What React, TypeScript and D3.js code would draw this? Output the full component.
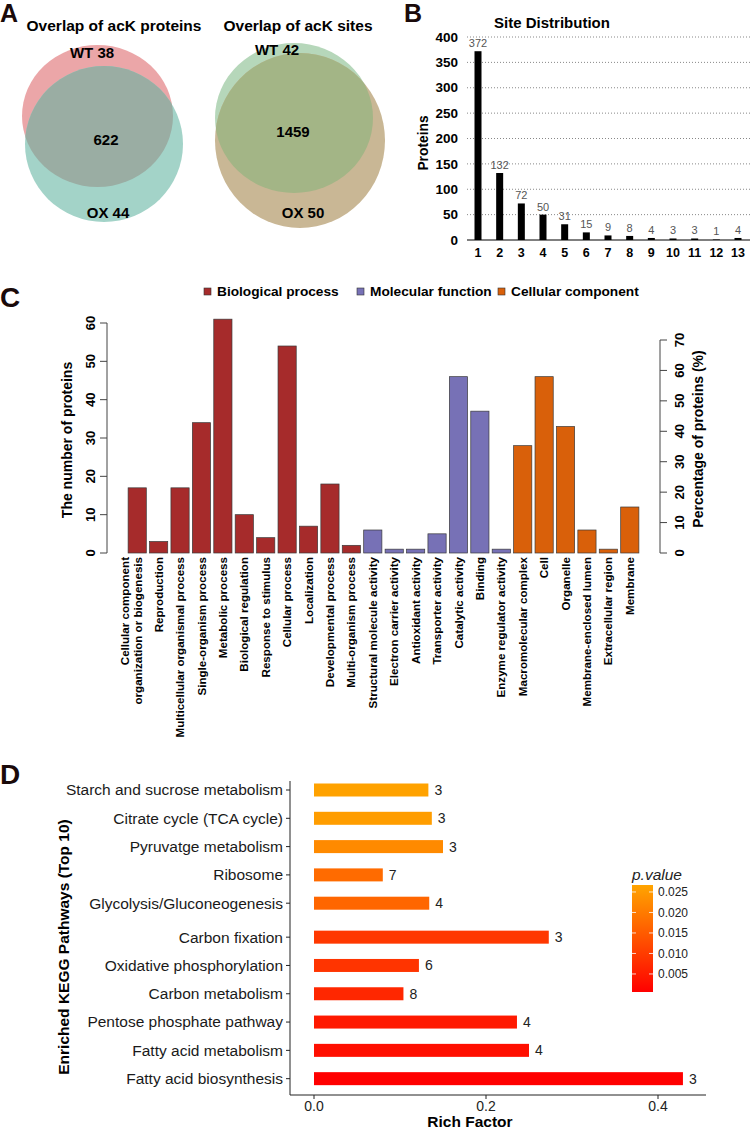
import React from "react";
import * as d3 from "d3";

const FONT = "'Liberation Sans', Arial, Helvetica, sans-serif";

// ---------- Panel A data ----------
const vennProteinTitle = "Overlap of acK proteins";
const vennProteinLabels = ["WT 38", "622", "OX 44"];
const vennSiteTitle = "Overlap of acK sites";
const vennSiteLabels = ["WT 42", "1459", "OX 50"];

// ---------- Panel B data ----------
const siteCategories = ["1", "2", "3", "4", "5", "6", "7", "8", "9", "10", "11", "12", "13"];
const siteProteins = [372, 132, 72, 50, 31, 15, 9, 8, 4, 3, 3, 1, 4];
const siteTicks = [0, 50, 100, 150, 200, 250, 300, 350, 400];

// ---------- Panel C data ----------
const goTerms = [
  "Cellular component|organization or biogenesis",
  "Reproduction",
  "Multicellular organismal process",
  "Single-organism process",
  "Metabolic process",
  "Biological regulation",
  "Response to stimulus",
  "Cellular process",
  "Localization",
  "Developmental process",
  "Multi-organism process",
  "Structural molecule activity",
  "Electron carrier activity",
  "Antioxidant activity",
  "Transporter activity",
  "Catalytic activity",
  "Binding",
  "Enzyme regulator activity",
  "Macromolecular complex",
  "Cell",
  "Organelle",
  "Membrane-enclosed lumen",
  "Extracellular region",
  "Membrane",
];
const goCounts = [17, 3, 17, 34, 61, 10, 4, 54, 7, 18, 2, 6, 1, 1, 5, 46, 37, 1, 28, 46, 33, 6, 1, 12];
const goGroups = [0, 0, 0, 0, 0, 0, 0, 0, 0, 0, 0, 1, 1, 1, 1, 1, 1, 1, 2, 2, 2, 2, 2, 2];
const goLegend = ["Biological process", "Molecular function", "Cellular component"];
const goColors = ["#A62B2B", "#7771B6", "#D9600A"];
const goLeftTicks = [0, 10, 20, 30, 40, 50, 60];
const goRightTicks = [0, 10, 20, 30, 40, 50, 60, 70];

// ---------- Panel D data ----------
const keggPathways = [
  "Starch and sucrose metabolism",
  "Citrate cycle (TCA cycle)",
  "Pyruvatge metabolism",
  "Ribosome",
  "Glycolysis/Gluconeogenesis",
  "Carbon fixation",
  "Oxidative phosphorylation",
  "Carbon metabolism",
  "Pentose phosphate pathway",
  "Fatty acid metabolism",
  "Fatty acid biosynthesis",
];
const keggRich = [0.133, 0.137, 0.15, 0.08, 0.134, 0.273, 0.122, 0.104, 0.236, 0.25, 0.429];
const keggCounts = [3, 3, 3, 7, 4, 3, 6, 8, 4, 4, 3];
const keggPvalue = [0.0262, 0.0255, 0.0225, 0.0175, 0.0168, 0.0095, 0.0088, 0.0068, 0.0045, 0.003, 0.0006];
const keggGroup = [0, 0, 0, 0, 0, 1, 1, 1, 1, 1, 1];
const richTicks = [0, 0.2, 0.4];
const pTicks = [0.005, 0.01, 0.015, 0.02, 0.025];
const pRange = [0.0006, 0.0267];

export default function App() {
  // ---- Panel B scales ----
  const bx = d3.scalePoint<string>().domain(siteCategories).range([478, 738]);
  const by = d3.scaleLinear().domain([0, 400]).range([240, 37]);

  // ---- Panel C scales ----
  const cx = d3
    .scaleBand<string>()
    .domain(goTerms)
    .range([126.5, 640.5])
    .paddingInner(0.15)
    .paddingOuter(0.075);
  const cyL = d3.scaleLinear().domain([0, 60]).range([553, 323]);
  const cyR = d3.scaleLinear().domain([0, 70]).range([553, 340]);

  // ---- Panel D scales ----
  const dx = d3.scaleLinear().domain([0, 0.4]).range([314, 658]);
  const dy = d3.scaleLinear().domain([0, 10]).range([790, 1073]);
  const dYpos = (i: number) => dy(i + 0.2 * keggGroup[i]);
  const pColor = d3
    .scaleLinear<string>()
    .domain(pRange)
    .range(["#FF0000", "#FFA500"])
    .interpolate(d3.interpolateRgb);
  const pY = d3.scaleLinear().domain(pRange).range([992, 885]);

  const gradStops = d3.range(0, 1.0001, 0.1).map((t) => ({
    t,
    c: pColor(pRange[0] + t * (pRange[1] - pRange[0])),
  }));

  return (
    <div>
      <style>{`body{margin:0}`}</style>
      <svg width={750} height={1132} style={{ display: "block", fontFamily: FONT }}>
        <defs>
          <clipPath id="clipWT1">
            <ellipse cx={97.5} cy={116} rx={75.5} ry={71} />
          </clipPath>
          <clipPath id="clipWT2">
            <ellipse cx={294} cy={118} rx={79} ry={75} />
          </clipPath>
          <linearGradient id="pgrad" x1="0" y1="1" x2="0" y2="0">
            {gradStops.map((s) => (
              <stop key={s.t} offset={s.t} stopColor={s.c} />
            ))}
          </linearGradient>
        </defs>
        <rect width={750} height={1132} fill="#fff" />

        {/* ================= Panel A ================= */}
        <text x={0} y={22} fontSize={25} fontWeight="bold" fill="#1a0a0a">A</text>
        <text x={114} y={31} fontSize={15.5} fontWeight="bold" textAnchor="middle">{vennProteinTitle}</text>
        <text x={298} y={31} fontSize={15.5} fontWeight="bold" textAnchor="middle">{vennSiteTitle}</text>

        <ellipse cx={97.5} cy={116} rx={75.5} ry={71} fill="#EBA6A8" />
        <ellipse cx={104} cy={144} rx={79} ry={78} fill="#A3D3C8" />
        <ellipse cx={104} cy={144} rx={79} ry={78} fill="#9AADA3" clipPath="url(#clipWT1)" />
        <text x={92} y={58} fontSize={15} fontWeight="bold" textAnchor="middle">{vennProteinLabels[0]}</text>
        <text x={106} y={145} fontSize={15} fontWeight="bold" textAnchor="middle">{vennProteinLabels[1]}</text>
        <text x={108} y={218} fontSize={15} fontWeight="bold" textAnchor="middle">{vennProteinLabels[2]}</text>

        <ellipse cx={294} cy={118} rx={79} ry={75} fill="#B6D7BA" />
        <ellipse cx={300} cy={140.5} rx={85} ry={87.5} fill="#C9B795" />
        <ellipse cx={300} cy={140.5} rx={85} ry={87.5} fill="#A3B586" clipPath="url(#clipWT2)" />
        <text x={277} y={55} fontSize={15} fontWeight="bold" textAnchor="middle">{vennSiteLabels[0]}</text>
        <text x={293} y={137} fontSize={15} fontWeight="bold" textAnchor="middle">{vennSiteLabels[1]}</text>
        <text x={303} y={218} fontSize={15} fontWeight="bold" textAnchor="middle">{vennSiteLabels[2]}</text>

        {/* ================= Panel B ================= */}
        <text x={404} y={22} fontSize={25} fontWeight="bold" fill="#1a0a0a">B</text>
        <text x={552} y={28} fontSize={15} fontWeight="bold" textAnchor="middle">Site Distribution</text>
        {siteTicks.map((t) => (
          <g key={"bt" + t}>
            {t > 0 && (
              <line x1={467} x2={750} y1={by(t)} y2={by(t)} stroke="#888" strokeWidth={1} strokeDasharray="1,2" />
            )}
            <text x={458} y={by(t)} dy="0.35em" fontSize={13.5} fontWeight="bold" textAnchor="end">{t}</text>
          </g>
        ))}
        <line x1={467} x2={750} y1={by(0)} y2={by(0)} stroke="#000" strokeWidth={1.2} />
        <text transform={`translate(428,143) rotate(-90)`} fontSize={13.8} fontWeight="bold" textAnchor="middle">Proteins</text>
        {siteCategories.map((c, i) => (
          <g key={"bb" + c}>
            <rect x={(bx(c) as number) - 3.5} y={by(siteProteins[i])} width={7} height={by(0) - by(siteProteins[i])} fill="#000" />
            <text x={bx(c)} y={by(siteProteins[i]) - 4} fontSize={11} fill="#555" textAnchor="middle">{siteProteins[i]}</text>
            <text x={bx(c)} y={253} dy="0.35em" fontSize={12.5} fontWeight="bold" textAnchor="middle">{c}</text>
          </g>
        ))}

        {/* ================= Panel C ================= */}
        <text x={0} y={307} fontSize={28} fontWeight="bold" fill="#1a0a0a">C</text>
        {goLegend.map((g, i) => {
          const lx = [204, 357, 498][i];
          return (
            <g key={"lg" + i}>
              <rect x={lx} y={288} width={7} height={7} fill={goColors[i]} stroke="#333" strokeWidth={0.6} />
              <text x={lx + 13} y={291.5} dy="0.35em" fontSize={13.7} fontWeight="bold">{g}</text>
            </g>
          );
        })}
        {/* left axis */}
        <line x1={107} x2={107} y1={cyL(0)} y2={cyL(60)} stroke="#444" />
        {goLeftTicks.map((t) => (
          <g key={"cl" + t}>
            <line x1={100} x2={107} y1={cyL(t)} y2={cyL(t)} stroke="#444" />
            <text transform={`translate(94.5,${cyL(t)}) rotate(-90)`} fontSize={13} fontWeight="bold" textAnchor="middle">{t}</text>
          </g>
        ))}
        <text transform={`translate(72,440) rotate(-90)`} fontSize={14} fontWeight="bold" textAnchor="middle">The number of proteins</text>
        {/* right axis */}
        <line x1={660} x2={660} y1={cyR(0)} y2={cyR(70)} stroke="#444" />
        {goRightTicks.map((t) => (
          <g key={"cr" + t}>
            <line x1={660} x2={667} y1={cyR(t)} y2={cyR(t)} stroke="#444" />
            <text transform={`translate(684,${cyR(t)}) rotate(-90)`} fontSize={13} fontWeight="bold" textAnchor="middle">{t}</text>
          </g>
        ))}
        <text transform={`translate(703,439) rotate(-90)`} fontSize={14} fontWeight="bold" textAnchor="middle">Percentage of proteins (%)</text>
        {goTerms.map((term, i) => {
          const x0 = cx(term) as number;
          const mid = x0 + cx.bandwidth() / 2;
          const lines = term.split("|");
          return (
            <g key={"cb" + i}>
              <rect x={x0} y={cyL(goCounts[i])} width={cx.bandwidth()} height={cyL(0) - cyL(goCounts[i])} fill={goColors[goGroups[i]]} stroke="#3a3a3a" strokeWidth={0.7} />
              {lines.length === 1 ? (
                <text transform={`translate(${mid},557) rotate(-90)`} dy="0.35em" fontSize={11.6} fontWeight="bold" textAnchor="end">{term}</text>
              ) : (
                lines.map((ln, j) => (
                  <text key={j} transform={`translate(${mid - 12 + j * 13},557) rotate(-90)`} dy="0.35em" fontSize={11.6} fontWeight="bold" textAnchor="end">{ln}</text>
                ))
              )}
            </g>
          );
        })}

        {/* ================= Panel D ================= */}
        <text x={0} y={784} fontSize={28} fontWeight="bold" fill="#1a0a0a">D</text>
        <line x1={290} x2={290} y1={781} y2={1095} stroke="#222" strokeWidth={1} />
        <line x1={290} x2={706} y1={1095} y2={1095} stroke="#222" strokeWidth={1} />
        {richTicks.map((t) => (
          <g key={"dt" + t}>
            <line x1={dx(t)} x2={dx(t)} y1={1095} y2={1099} stroke="#222" />
            <text x={dx(t)} y={1106} dy="0.35em" fontSize={14} fill="#222" textAnchor="middle">{t.toFixed(1)}</text>
          </g>
        ))}
        <text x={470} y={1127} fontSize={15.5} fontWeight="bold" textAnchor="middle">Rich Factor</text>
        <text transform={`translate(69,947) rotate(-90)`} fontSize={15.5} fontWeight="bold" textAnchor="middle">Enriched KEGG Pathways (Top 10)</text>
        {keggPathways.map((p, i) => {
          const yc = dYpos(i);
          return (
            <g key={"kp" + i}>
              <line x1={286} x2={290} y1={yc} y2={yc} stroke="#222" />
              <text x={283} y={yc} dy="0.35em" fontSize={15.5} fill="#1a1a1a" textAnchor="end">{p}</text>
              <rect x={dx(0)} y={yc - 6.5} width={dx(keggRich[i]) - dx(0)} height={13} fill={pColor(keggPvalue[i])} />
              <text x={dx(keggRich[i]) + 6} y={yc} dy="0.35em" fontSize={14} fill="#222">{keggCounts[i]}</text>
            </g>
          );
        })}
        {/* colorbar legend */}
        <text x={632} y={880} fontSize={15.5} fontStyle="italic" fill="#222">p.value</text>
        <rect x={632} y={pY(pRange[1])} width={21} height={pY(pRange[0]) - pY(pRange[1])} fill="url(#pgrad)" />
        {pTicks.map((t) => (
          <g key={"pt" + t}>
            <line x1={632} x2={636} y1={pY(t)} y2={pY(t)} stroke="#fff" strokeWidth={0.8} />
            <line x1={649} x2={653} y1={pY(t)} y2={pY(t)} stroke="#fff" strokeWidth={0.8} />
            <text x={658} y={pY(t)} dy="0.35em" fontSize={12} fill="#222">{t.toFixed(3)}</text>
          </g>
        ))}
      </svg>
    </div>
  );
}
